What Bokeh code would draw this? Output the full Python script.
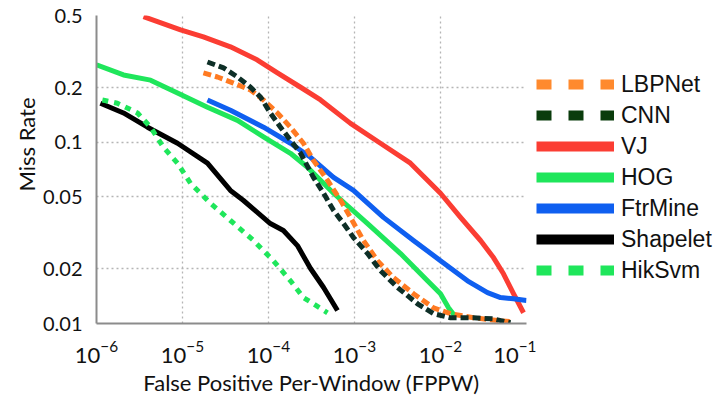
from bokeh.plotting import figure
from bokeh.models import (FixedTicker, LogTickFormatter, Legend, LegendItem,
                          Title, CustomJSTickFormatter, Range1d)
from bokeh.layouts import row
from bokeh.embed import file_html
from bokeh.resources import INLINE

# ---- data ----
y_ticks = [0.01, 0.02, 0.05, 0.1, 0.2, 0.5]
y_tick_labels = ["0.01", "0.02", "0.05", "0.1", "0.2", "0.5"]
x_ticks = [1e-6, 1e-5, 1e-4, 1e-3, 1e-2, 1e-1]

vj_x = [3.52e-6, 9.5e-6, 1.75e-5, 3.61e-5, 7.44e-5, 1.27e-4, 2.36e-4, 4.03e-4, 8.98e-4,
        2.0e-3, 4.47e-3, 1.0e-2, 1.71e-2, 2.92e-2, 4.13e-2, 5.4e-2, 7.06e-2, 9.23e-2]
vj_y = [0.493, 0.417, 0.381, 0.336, 0.284, 0.241, 0.201, 0.171, 0.127,
        0.0987, 0.0766, 0.0523, 0.0385, 0.0287, 0.0231, 0.0188, 0.0146, 0.01146]

hog_x = [1e-6, 2.06e-6, 4.25e-6, 8.75e-6, 1.95e-5, 4.36e-5, 8.75e-5, 1.80e-4, 2.84e-4,
         5.70e-4, 1.42e-3, 3.43e-3, 7.06e-3, 1.0e-2, 1.24e-2, 1.49e-2]
hog_y = [0.267, 0.235, 0.220, 0.187, 0.156, 0.132, 0.107, 0.0869, 0.0728,
         0.0523, 0.0356, 0.0243, 0.0172, 0.0146, 0.0122, 0.0109]

ftr_x = [1.95e-5, 3.61e-5, 8.75e-5, 1.80e-4, 3.08e-4, 5.70e-4, 9.73e-4, 2.17e-3,
         4.85e-3, 1.0e-2, 2.06e-2, 3.52e-2, 4.99e-2, 7.06e-2, 1.0e-1]
ftr_y = [0.171, 0.150, 0.121, 0.0987, 0.0826, 0.064, 0.0542, 0.0385,
         0.0287, 0.0222, 0.0172, 0.0148, 0.0139, 0.0137, 0.0134]

shp_x = [1.11e-6, 2.06e-6, 3.92e-6, 8.75e-6, 1.95e-5, 3.61e-5, 5.12e-5, 1.05e-4,
         1.49e-4, 2.17e-4, 3.08e-4, 4.37e-4, 6.34e-4]
shp_y = [0.164, 0.145, 0.121, 0.0987, 0.0766, 0.0542, 0.0477, 0.0356,
         0.0326, 0.0269, 0.0201, 0.0158, 0.0118]

hik_x = [1.17e-6, 1.75e-6, 3.0e-6, 4.25e-6, 6.01e-6, 8.75e-6, 1.24e-5, 2.12e-5,
         3.61e-5, 6.70e-5, 1.14e-4, 1.80e-4, 2.55e-4, 4.85e-4]
hik_y = [0.171, 0.164, 0.145, 0.121, 0.0938, 0.0766, 0.0593, 0.046,
         0.037, 0.0287, 0.0222, 0.0172, 0.0139, 0.01146]

lbp_x = [1.75e-5, 2.55e-5, 3.92e-5, 6.18e-5, 8.75e-5, 1.27e-4, 1.80e-4, 2.55e-4,
         3.33e-4, 4.85e-4, 6.87e-4, 8.98e-4, 1.27e-3, 1.85e-3, 2.84e-3, 4.85e-3,
         8.30e-3, 1.31e-2, 2.42e-2, 4.99e-2, 7.06e-2]
lbp_y = [0.241, 0.229, 0.212, 0.194, 0.171, 0.145, 0.121, 0.0987,
         0.0794, 0.0617, 0.0478, 0.0385, 0.0287, 0.0222, 0.0179, 0.0146,
         0.0122, 0.01132, 0.01075, 0.01035, 0.0102]

cnn_x = [1.95e-5, 3.0e-5, 4.36e-5, 6.18e-5, 8.07e-5, 1.05e-4, 1.38e-4, 1.80e-4,
         2.36e-4, 3.33e-4, 4.37e-4, 5.70e-4, 7.45e-4, 9.73e-4, 1.42e-3, 2.0e-3,
         3.16e-3, 5.41e-3, 8.30e-3, 1.31e-2, 2.42e-2, 4.13e-2, 6.52e-2]
cnn_y = [0.277, 0.257, 0.229, 0.201, 0.1775, 0.145, 0.121, 0.1026,
         0.0869, 0.064, 0.0523, 0.0421, 0.0356, 0.0298, 0.0243, 0.0196,
         0.0158, 0.01285, 0.01132, 0.01075, 0.01075, 0.0106, 0.0101]

names = ["LBPNet", "CNN", "VJ", "HOG", "FtrMine", "Shapelet", "HikSvm"]
colors = ["#ff7a22", "#0e2f27", "#fb3d33", "#1fe65b", "#0f5ff0", "#000000", "#1fe65b"]
legend_colors = ["#ff8a2e", "#0a3c0c", "#fb3d33", "#1fe65b", "#0f5ff0", "#000000", "#1fe65b"]
dashes = ["8 4", "8 4", "solid", "solid", "solid", "solid", "6 6"]
legend_dashes = ["15 17", "15 17", "solid", "solid", "solid", "solid", "15 17"]
series = {
    "LBPNet": (lbp_x, lbp_y), "CNN": (cnn_x, cnn_y), "VJ": (vj_x, vj_y),
    "HOG": (hog_x, hog_y), "FtrMine": (ftr_x, ftr_y), "Shapelet": (shp_x, shp_y),
    "HikSvm": (hik_x, hik_y),
}

TICK_FONT = "Lato"

p = figure(width=536, height=400, x_axis_type="log", y_axis_type="log",
           x_range=(1e-6, 1e-1), y_range=(0.01, 0.5),
           output_backend="svg", toolbar_location=None,
           min_border_left=96, min_border_right=10, min_border_top=15,
           min_border_bottom=77)
p.outline_line_color = None
p.background_fill_color = "white"

# grid
for g in (p.xgrid, p.ygrid):
    g.grid_line_color = "#b5b5b5"
    g.grid_line_dash = "2 3"
    g.grid_line_width = 1.3
p.xgrid.ticker = FixedTicker(ticks=x_ticks)
p.ygrid.ticker = FixedTicker(ticks=y_ticks)

# axes
p.xaxis.ticker = FixedTicker(ticks=x_ticks, minor_ticks=[])
p.yaxis.ticker = FixedTicker(ticks=y_ticks, minor_ticks=[])
p.xaxis.formatter = LogTickFormatter(min_exponent=0)
p.yaxis.formatter = CustomJSTickFormatter(
    args=dict(tvals=y_ticks, tlabs=y_tick_labels),
    code="""
    for (let i = 0; i < tvals.length; i++) {
        if (Math.abs(Math.log10(tick) - Math.log10(tvals[i])) < 1e-6) return tlabs[i];
    }
    return '';
    """)
for ax in (p.xaxis, p.yaxis):
    ax.axis_line_color = "#8c8c8c"
    ax.axis_line_width = 2
    ax.major_tick_line_color = None
    ax.minor_tick_line_color = None
    ax.major_label_text_font = TICK_FONT
    ax.major_label_text_color = "#111111"
p.xaxis.major_label_text_font_size = "22px"
p.yaxis.major_label_text_font_size = "20px"
p.xaxis.major_label_standoff = 11
p.yaxis.major_label_standoff = 8

p.xaxis.axis_label = "False Positive Per-Window (FPPW)"
p.xaxis.axis_label_text_font = TICK_FONT
p.xaxis.axis_label_text_font_size = "22px"
p.xaxis.axis_label_text_font_style = "normal"
p.xaxis.axis_label_standoff = 3
p.xaxis.axis_label_text_color = "#111111"

ytitle = Title(text="Miss Rate", align="right", offset=82,
               text_font=TICK_FONT, text_font_size="22px",
               text_font_style="normal", text_color="#111111", standoff=0)
p.add_layout(ytitle, "left")

# curves (draw in reverse so LBPNet / CNN are on top)
order = ["VJ", "FtrMine", "HOG", "Shapelet", "HikSvm", "LBPNet", "CNN"]
for nm in order:
    i = names.index(nm)
    xs, ys = series[nm]
    p.line(xs, ys, line_color=colors[i], line_width=5, line_dash=dashes[i],
           line_cap="butt", line_join="round")

# legend figure to the right of the plot
q = figure(width=190, height=400, x_axis_location=None, y_axis_location=None,
           x_range=Range1d(0, 1), y_range=Range1d(0, 1),
           output_backend="svg", toolbar_location=None,
           min_border=0, min_border_left=0, min_border_right=0,
           min_border_top=0, min_border_bottom=0)
q.outline_line_color = None
q.xgrid.visible = False
q.ygrid.visible = False

items = []
nan = float("nan")
for i, nm in enumerate(names):
    r = q.line([nan], [nan], line_color=legend_colors[i], line_width=10,
               line_dash=legend_dashes[i], line_cap="butt")
    items.append(LegendItem(label=nm, renderers=[r]))

legend = Legend(items=items, location=(0, 38), orientation="vertical",
                glyph_width=78, glyph_height=30, label_height=30,
                label_standoff=7, spacing=1, padding=0, margin=0,
                label_text_font="Liberation Sans", label_text_font_size="23px",
                label_text_color="#111111",
                border_line_color=None, background_fill_alpha=0)
q.add_layout(legend)

open("out.html", "w").write(file_html(row(p, q), INLINE))
